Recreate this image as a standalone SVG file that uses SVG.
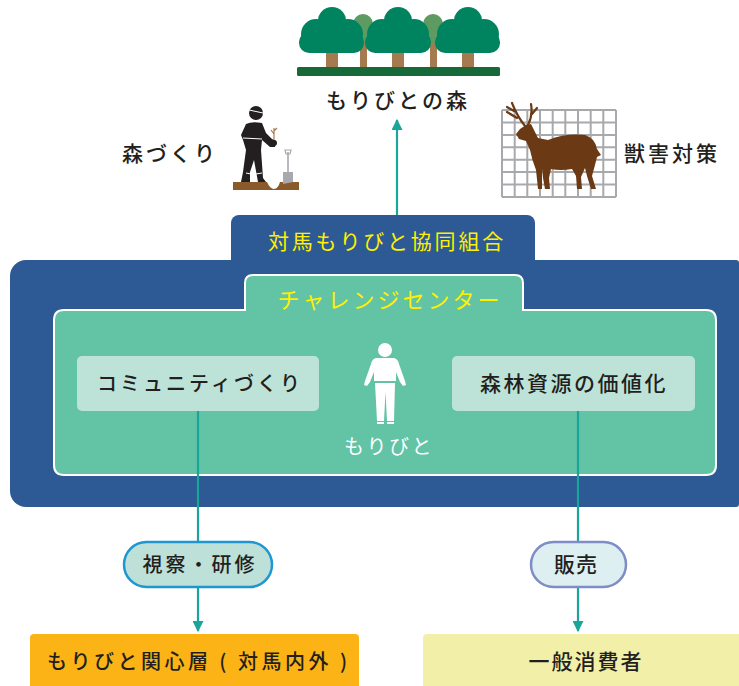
<svg xmlns="http://www.w3.org/2000/svg" width="739" height="686" viewBox="0 0 739 686">
  <defs>
    <style>
      .t { font-family: "Noto Sans CJK JP", "Noto Sans", sans-serif; font-weight: 500; fill: #231f20; text-anchor: middle; }
      .yel { fill: #fff000; font-weight: 400; }
      .wht { fill: #ffffff; font-weight: 400; }
      .conn { stroke: #1aa59a; stroke-width: 2.2; fill: none; }
      .tree { fill: #00845f; }
      .btree { fill: #5e9b62; }
      .trunk { fill: #a57a4f; }
      .grid line { stroke: #a7a9ac; stroke-width: 2; }
    </style>
    <marker id="arr" viewBox="0 0 10 10" refX="9" refY="5" markerWidth="5" markerHeight="5" orient="auto" markerUnits="strokeWidth">
      <path d="M0,0 L10,5 L0,10 Z" fill="#1aa59a"/>
    </marker>
  </defs>

  <!-- forest on top -->
  <g id="forest">
    <!-- back trees -->
    <g class="btree">
      <circle cx="363" cy="24" r="10"/>
      <circle cx="355" cy="36" r="12"/>
      <circle cx="371" cy="36" r="12"/>
      <circle cx="433" cy="24" r="10"/>
      <circle cx="425" cy="36" r="12"/>
      <circle cx="441" cy="36" r="12"/>
    </g>
    <g class="trunk">
      <rect x="360" y="44" width="7" height="24"/>
      <rect x="430" y="44" width="7" height="24"/>
      <rect x="326" y="48" width="12" height="20"/>
      <rect x="392" y="48" width="12" height="20"/>
      <rect x="462" y="48" width="12" height="20"/>
    </g>
    <g class="tree">
      <circle cx="332" cy="21" r="14"/>
      <circle cx="316" cy="34" r="15"/>
      <circle cx="348" cy="34" r="15"/>
      <rect x="299" y="32" width="65" height="21" rx="10"/>
      <circle cx="398" cy="21" r="14"/>
      <circle cx="382" cy="34" r="15"/>
      <circle cx="414" cy="34" r="15"/>
      <rect x="365" y="32" width="66" height="21" rx="10"/>
      <circle cx="468" cy="21" r="14"/>
      <circle cx="452" cy="34" r="15"/>
      <circle cx="484" cy="34" r="15"/>
      <rect x="435" y="32" width="65" height="21" rx="10"/>
    </g>
    <rect x="297" y="67" width="203" height="9" rx="1.5" fill="#17693a"/>
    <text class="t" x="398" y="108" font-size="21" letter-spacing="3">もりびとの森</text>
  </g>

  <!-- forest building: worker planting -->
  <g id="mori-zukuri">
    <text class="t" x="170" y="161" font-size="21" letter-spacing="3">森づくり</text>
    <path d="M233,182 L267,182 Q270,189 274,189 Q278,189 280,182 L299,182 L299,190 L233,190 Z" fill="#8a5a2b"/>
    <!-- shovel -->
    <path d="M288,152 L288,173" stroke="#a7a9ac" stroke-width="1.6"/>
    <path d="M285,150 L291,150 L290,154 L286,154 Z" fill="none" stroke="#a7a9ac" stroke-width="1.2"/>
    <path d="M283,172 L293,172 L293,182 L283,184 Z" fill="#a7a9ac"/>
    <!-- sapling -->
    <path d="M274,140 L274,128 M274,134 L271,130 M274,131 L277,128" stroke="#a57a4f" stroke-width="1.2" fill="none"/>
    <!-- worker -->
    <g fill="#231f20">
      <circle cx="256" cy="113" r="7"/>
      <path d="M246,124 Q252,121 262,123 L266,133 L272,139 L276,141 L275,147 L270,147 L262,140 L261,150 L263,178 L266,182 L258,182 L254,160 L250,172 L250,182 L241,182 L243,172 L246,150 L243,140 L241,135 Z"/>
      <circle cx="274" cy="143" r="3"/>
    </g>
    <path d="M249,110 L263,113" stroke="#ffffff" stroke-width="1"/>
    <path d="M243,138 L262,139" stroke="#ffffff" stroke-width="1"/>
    <path d="M246,173 L251,174 M256,174 L262,173" stroke="#ffffff" stroke-width="1"/>
  </g>

  <!-- wildlife damage control: deer behind fence -->
  <g id="jugai">
    <g class="grid">
      <line x1="502" y1="110" x2="502" y2="197"/>
      <line x1="514.7" y1="110" x2="514.7" y2="197"/>
      <line x1="527.3" y1="110" x2="527.3" y2="197"/>
      <line x1="540" y1="110" x2="540" y2="197"/>
      <line x1="552.7" y1="110" x2="552.7" y2="197"/>
      <line x1="565.3" y1="110" x2="565.3" y2="197"/>
      <line x1="578" y1="110" x2="578" y2="197"/>
      <line x1="590.7" y1="110" x2="590.7" y2="197"/>
      <line x1="603.3" y1="110" x2="603.3" y2="197"/>
      <line x1="616" y1="110" x2="616" y2="197"/>
      <line x1="502" y1="110" x2="616" y2="110"/>
      <line x1="502" y1="122.4" x2="616" y2="122.4"/>
      <line x1="502" y1="134.9" x2="616" y2="134.9"/>
      <line x1="502" y1="147.3" x2="616" y2="147.3"/>
      <line x1="502" y1="159.7" x2="616" y2="159.7"/>
      <line x1="502" y1="172.1" x2="616" y2="172.1"/>
      <line x1="502" y1="184.6" x2="616" y2="184.6"/>
      <line x1="502" y1="197" x2="616" y2="197"/>
    </g>
    <path d="M516,134 L520,129 L526,125 L531,124 L533,128 L538,138 L548,140 Q566,133 585,135 Q595,138 597,149 L601,155 L597,157 L595,165 L592,176 L596,189 L591,189 L587,176 L585,168 L581,177 L582,189 L577,189 L576,176 L572,169 Q560,171 551,169 L549,178 L550,189 L545,189 L543,178 L542,169 L542,189 L538,189 L536,170 Q532,160 530,150 L526,141 L519,139 Z" fill="#6b3a14"/>
    <path d="M525,126 Q517,116 512,103 M517,118 L507,112 M514,111 L507,107 M528,125 Q533,115 531,104 M532,114 L537,108" stroke="#6b3a14" stroke-width="2.2" fill="none" stroke-linecap="round"/>
    <text class="t" x="672" y="161" font-size="21" letter-spacing="3">獣害対策</text>
  </g>

  <!-- cooperative -->
  <g id="kyodo-kumiai">
    <rect x="231" y="215" width="304" height="60" rx="8" fill="#2d5a94"/>
    <rect x="10" y="260" width="729" height="247" rx="16" fill="#2d5a94"/>
    <rect x="720" y="260" width="19" height="247" rx="3" fill="#2d5a94"/>
    <text class="t yel" x="387" y="249" font-size="21" letter-spacing="2.8">対馬もりびと協同組合</text>
  </g>

  <!-- challenge center -->
  <g id="challenge-center">
    <path d="M64,310 L245,310 L245,283 Q245,275 253,275 L515,275 Q523,275 523,283 L523,310 L706,310 Q716,310 716,320 L716,465 Q716,475 706,475 L64,475 Q54,475 54,465 L54,320 Q54,310 64,310 Z" fill="#62c3a5" stroke="#ffffff" stroke-width="2"/>
    <text class="t yel" x="390" y="308" font-size="22" letter-spacing="3">チャレンジセンター</text>
  </g>

  <g id="community">
    <rect x="77" y="356" width="242" height="55" rx="5" fill="#bde3d9"/>
    <text class="t" x="200" y="391" font-size="20" letter-spacing="3">コミュニティづくり</text>
  </g>

  <g id="shigen">
    <rect x="452" y="356" width="243" height="55" rx="5" fill="#bde3d9"/>
    <text class="t" x="574" y="391" font-size="21" letter-spacing="2.5">森林資源の価値化</text>
  </g>

  <g id="moribito">
    <g fill="#ffffff">
      <circle cx="385" cy="350" r="7"/>
      <path d="M376,358 L394,358 Q398,359 399,364 L405,381 L406,385 L403,386 L400,382 L396,372 L396,381 L374,381 L374,372 L370,382 L367,386 L364,385 L365,381 L371,364 Q372,359 376,358 Z"/>
      <path d="M375,383 L395,383 L394,421 L387,421 L385.5,392 L384,421 L377,421 Z"/>
      <rect x="377" y="422" width="7" height="2"/>
      <rect x="387" y="422" width="7" height="2"/>
    </g>
    <text class="t wht" x="389" y="454" font-size="20" letter-spacing="2.5">もりびと</text>
  </g>

  <!-- connectors -->
  <g id="connectors">
    <line class="conn" x1="397" y1="215" x2="397" y2="120" marker-end="url(#arr)"/>
    <line class="conn" x1="198" y1="411" x2="198" y2="631" marker-end="url(#arr)"/>
    <line class="conn" x1="578" y1="411" x2="578" y2="631" marker-end="url(#arr)"/>
  </g>

  <g id="shisatsu">
    <rect x="124" y="542" width="148" height="45" rx="22.5" fill="#bde0d8" stroke="#1e96d2" stroke-width="2.5"/>
    <text class="t" x="200" y="572" font-size="20" letter-spacing="3">視察・研修</text>
  </g>

  <g id="hanbai">
    <rect x="531" y="542" width="95" height="45" rx="22.5" fill="#ddeff0" stroke="#7f8cc6" stroke-width="2.5"/>
    <text class="t" x="576" y="572" font-size="21" letter-spacing="1">販売</text>
  </g>

  <g id="kanshinso">
    <rect x="30" y="634" width="329" height="60" rx="4" fill="#fbb316"/>
    <text class="t" x="197" y="669" font-size="20" textLength="300" lengthAdjust="spacing">もりびと関心層 ( 対馬内外 )</text>
  </g>

  <g id="shohisha">
    <rect x="423" y="634" width="330" height="60" rx="4" fill="#f2f0a8"/>
    <text class="t" x="586" y="669" font-size="21" letter-spacing="2">一般消費者</text>
  </g>
</svg>
